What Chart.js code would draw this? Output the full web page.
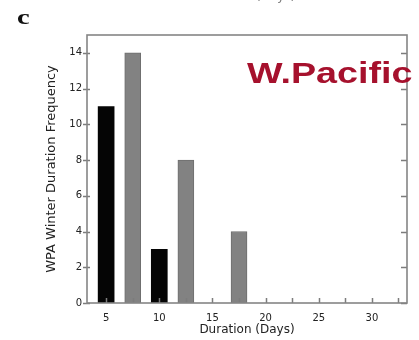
<!DOCTYPE html>
<html>
<head>
<meta charset="utf-8">
<script src="https://cdn.jsdelivr.net/npm/chart.js@4/dist/chart.umd.min.js"></script>
<style>
  html, body { margin: 0; padding: 0; background: #fff; }
  #wrap { position: relative; width: 419px; height: 340px; overflow: hidden; }
  canvas { position: absolute; left: 0; top: 0; }
  #panel { position: absolute; left: 17px; top: 6px; font: bold 22px "Liberation Serif", serif; color: #111; transform: scaleX(1.3); transform-origin: left top; line-height: 22px; }
  #region { position: absolute; left: 247px; top: 59px; font: bold 29px "Liberation Sans", Arial, sans-serif; color: #a6112d; line-height: 29px; transform: scaleX(1.3); transform-origin: left top; white-space: nowrap; }
  #cut { position: absolute; left: 200px; top: -11px; font: 12px "DejaVu Sans", sans-serif; color: #777; line-height: 14px; white-space: nowrap; }
</style>
</head>
<body>
<div id="wrap">
  <canvas id="c" width="419" height="340"></canvas>
  <div id="cut">Duration (Days)</div>
  <div id="panel">c</div>
  <div id="region">W.Pacific</div>
</div>
<script>
// ---- data ----
const blackDurations = [5, 10];
const blackFrequency = [11, 3];
const grayDurations = [7.5, 12.5, 17.5];
const grayFrequency = [14, 8, 4];
const xTickLabels = [5, 10, 15, 20, 25, 30];
const xMinorTicks = [5, 7.5, 10, 12.5, 15, 17.5, 20, 22.5, 25, 27.5, 30, 32.5];
const yTickLabels = [0, 2, 4, 6, 8, 10, 12, 14];
const xTitle = 'Duration (Days)';
const yTitle = 'WPA Winter Duration Frequency';

const framePlugin = {
  id: 'frame',
  afterDatasetsDraw(chart) {
    const { ctx, chartArea: a, scales } = chart;
    ctx.save();
    ctx.strokeStyle = '#7c7c7c';
    ctx.lineWidth = 1.5;
    ctx.beginPath();
    xMinorTicks.forEach(v => {
      const x = Math.round(scales.x.getPixelForValue(v)) + 0.5;
      ctx.moveTo(x, a.bottom);
      ctx.lineTo(x, a.bottom - 5);
    });
    yTickLabels.forEach(v => {
      const y = Math.round(scales.y.getPixelForValue(v)) + 0.5;
      ctx.moveTo(a.left - 4, y);
      ctx.lineTo(a.left + 3, y);
      ctx.moveTo(a.right, y);
      ctx.lineTo(a.right - 6, y);
    });
    ctx.stroke();
    ctx.strokeStyle = '#858585';
    ctx.lineWidth = 1.6;
    ctx.strokeRect(a.left, a.top, a.right - a.left, a.bottom - a.top);
    ctx.restore();
  }
};

new Chart(document.getElementById('c'), {
  type: 'bar',
  data: {
    datasets: [
      {
        label: 'black',
        data: blackDurations.map((x, i) => ({ x: x, y: blackFrequency[i] })),
        backgroundColor: '#050505',
        borderWidth: 0,
        barThickness: 16,
        grouped: false
      },
      {
        label: 'gray',
        data: grayDurations.map((x, i) => ({ x: x, y: grayFrequency[i] })),
        backgroundColor: '#828282',
        borderColor: '#6e6e6e',
        borderWidth: 1,
        barThickness: 16,
        grouped: false
      }
    ]
  },
  options: {
    responsive: false,
    animation: false,
    devicePixelRatio: 1,
    layout: { padding: { left: 0, right: 12, top: 35, bottom: 0 } },
    plugins: { legend: { display: false }, tooltip: { enabled: false } },
    scales: {
      x: {
        type: 'linear',
        offset: false,
        min: 3.2,
        max: 33.3,
        afterBuildTicks: s => { s.ticks = xTickLabels.map(v => ({ value: v })); },
        afterFit: s => { s.height = 37; },
        grid: { display: false, drawTicks: false, offset: false },
        border: { display: false },
        ticks: { color: '#222', font: { family: 'DejaVu Sans', size: 10 }, padding: 9, maxRotation: 0, autoSkip: false },
        title: { display: true, text: xTitle, color: '#222', font: { family: 'DejaVu Sans', size: 12 }, padding: { top: 0, bottom: 3 } }
      },
      y: {
        min: 0,
        max: 15,
        afterBuildTicks: s => { s.ticks = yTickLabels.map(v => ({ value: v })); },
        afterFit: s => { s.width = 87; },
        grid: { display: false, drawTicks: false },
        border: { display: false },
        ticks: { color: '#222', font: { family: 'DejaVu Sans', size: 10 }, padding: 5, autoSkip: false },
        title: { display: true, text: yTitle, color: '#222', font: { family: 'DejaVu Sans', size: 13 }, padding: { top: 44, bottom: 0 } }
      }
    }
  },
  plugins: [framePlugin]
});
</script>
</body>
</html>
